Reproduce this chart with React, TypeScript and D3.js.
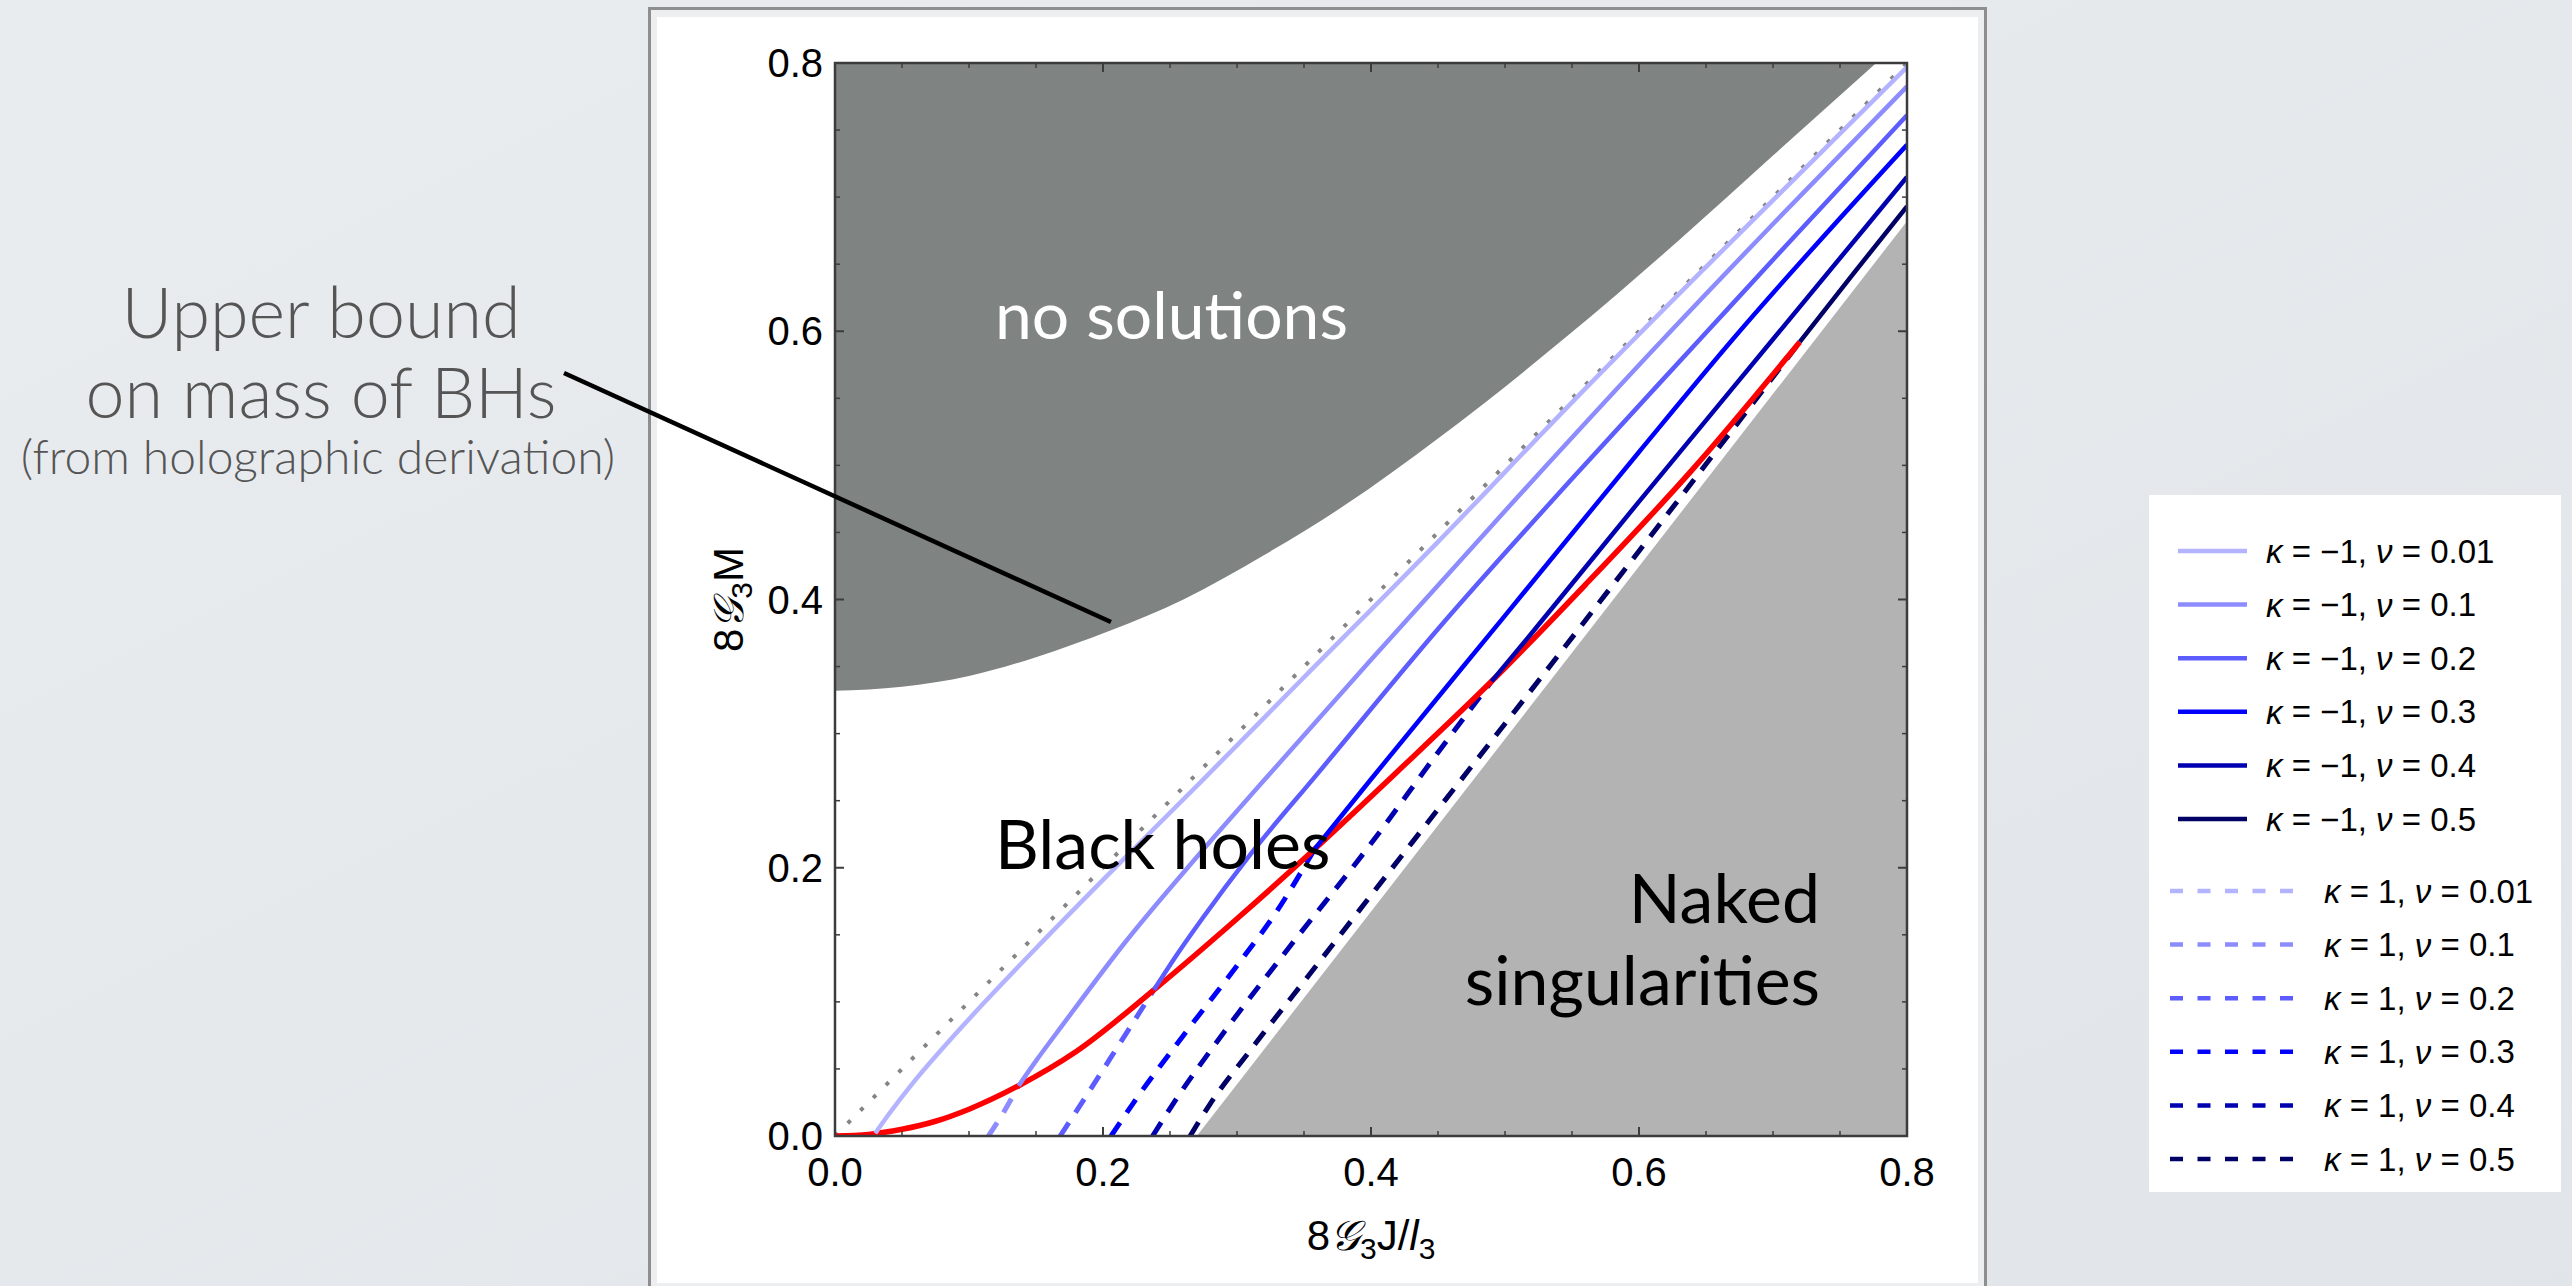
import React from 'react';
import * as d3 from 'd3';

type Pt = [number, number];

const W = 2572;
const H = 1286;

// axis ticks
const majorTicks = [0, 0.2, 0.4, 0.6, 0.8];
const tickLabels = ['0.0', '0.2', '0.4', '0.6', '0.8'];
const minorTicks = [0.05, 0.1, 0.15, 0.25, 0.3, 0.35, 0.45, 0.5, 0.55, 0.65, 0.7, 0.75];

// upper bound on the mass (edge of the "no solutions" region)
const upperBound: Pt[] = [
  [0, 0.332], [0.05, 0.335], [0.1, 0.343], [0.15, 0.357], [0.206, 0.377],
  [0.26, 0.4], [0.32, 0.433], [0.38, 0.47], [0.45, 0.52], [0.546, 0.596],
  [0.63, 0.668], [0.7, 0.731], [0.777, 0.8],
];

// edge of the naked-singularity region
const nakedEdge: Pt[] = [[0.27, 0], [0.8, 0.682]];

// M = J reference line
const diagonal: Pt[] = [[0, 0], [0.8, 0.8]];

// red extremal curve
const extremalCurve: Pt[] = [
  [0, 0], [0.025, 0.0012], [0.05, 0.005], [0.075, 0.011], [0.1, 0.02], [0.137, 0.0375],
  [0.18, 0.063], [0.238, 0.109], [0.3, 0.162], [0.358, 0.214], [0.42, 0.272],
  [0.49, 0.339], [0.56, 0.411], [0.64, 0.497], [0.72, 0.592],
];

const nuLabels = ['0.01', '0.1', '0.2', '0.3', '0.4', '0.5'];
const nuColors = ['#b3b3ff', '#8c8cff', '#5c5cff', '#0000ff', '#0000b0', '#000066'];

// kappa = -1 branches (solid)
const kappaMinus001: Pt[] = [
  [0.03, 0.002], [0.04, 0.016], [0.0585, 0.04], [0.08, 0.065], [0.11, 0.098],
  [0.15, 0.14], [0.2, 0.191], [0.274, 0.265], [0.35, 0.342], [0.45, 0.443],
  [0.55, 0.547], [0.65, 0.648], [0.8, 0.797],
];
const kappaMinus01: Pt[] = [
  [0.137, 0.0375], [0.15, 0.056], [0.17, 0.083], [0.217, 0.145], [0.27, 0.208],
  [0.32, 0.265], [0.4, 0.355], [0.5, 0.466], [0.618, 0.594], [0.7, 0.68], [0.8, 0.7825],
];
const kappaMinus02: Pt[] = [
  [0.238, 0.109], [0.255, 0.135], [0.274, 0.162], [0.31, 0.21], [0.36, 0.27],
  [0.45, 0.378], [0.55, 0.49], [0.6455, 0.594], [0.72, 0.675], [0.8, 0.761],
];
const kappaMinus03: Pt[] = [
  [0.358, 0.214], [0.4, 0.266], [0.5, 0.388], [0.6, 0.51], [0.67, 0.594], [0.8, 0.739],
];
const kappaMinus04: Pt[] = [
  [0.49, 0.339], [0.52, 0.375], [0.6, 0.473], [0.7, 0.594], [0.8, 0.715],
];
const kappaMinus05: Pt[] = [[0.72, 0.592], [0.76, 0.643], [0.8, 0.693]];

// kappa = +1 branches (dashed)
const kappaPlus001: Pt[] = [[0.028, 0], [0.03, 0.002]];
const kappaPlus01: Pt[] = [[0.1145, 0], [0.126, 0.018], [0.137, 0.0375]];
const kappaPlus02: Pt[] = [[0.168, 0], [0.185, 0.026], [0.21, 0.065], [0.238, 0.109]];
const kappaPlus03: Pt[] = [
  [0.206, 0], [0.225, 0.028], [0.26, 0.075], [0.3, 0.127], [0.33, 0.168], [0.358, 0.214],
];
const kappaPlus04: Pt[] = [
  [0.237, 0], [0.255, 0.028], [0.29, 0.077], [0.34, 0.142], [0.4, 0.218], [0.45, 0.286], [0.49, 0.339],
];
const kappaPlus05: Pt[] = [
  [0.265, 0], [0.28, 0.024], [0.31, 0.064], [0.36, 0.128], [0.43, 0.218], [0.52, 0.333],
  [0.62, 0.462], [0.72, 0.592],
];

const kappaMinusCurves = [kappaMinus001, kappaMinus01, kappaMinus02, kappaMinus03, kappaMinus04, kappaMinus05];
const kappaPlusCurves = [kappaPlus001, kappaPlus01, kappaPlus02, kappaPlus03, kappaPlus04, kappaPlus05];

const annotationLines = ['Upper bound', 'on mass of BHs', '(from holographic derivation)'];

const axisFont = "'Liberation Sans', Arial, Helvetica, sans-serif";
const slideFont = "Lato, 'Open Sans', 'Noto Sans', sans-serif";
const scriptFont = "'DejaVu Serif', 'DejaVu Sans', 'Noto Sans', serif";

export default function App() {
  const plot = { left: 835, right: 1907, top: 63, bottom: 1136 };
  const x = d3.scaleLinear().domain([0, 0.8]).range([plot.left, plot.right]);
  const y = d3.scaleLinear().domain([0, 0.8]).range([plot.bottom, plot.top]);

  const smooth = d3.line<Pt>().x(d => x(d[0])).y(d => y(d[1])).curve(d3.curveMonotoneX);
  const straight = d3.line<Pt>().x(d => x(d[0])).y(d => y(d[1]));

  const darkPath = `${smooth(upperBound)}L${x(0)},${y(0.8)}Z`;
  const nakedPath = `${straight(nakedEdge)}L${x(0.8)},${y(0)}Z`;

  const frameColor = '#3c3c3c';
  const legendX = 2149;
  const legendY = 495;
  const rowStep = 53.6;
  const solidRow0 = 551;
  const dashedRow0 = 891;

  return (
    <div style={{ position: 'fixed', left: 0, top: 0, width: W, height: H, overflow: 'hidden' }}>
      <svg width={W} height={H} viewBox={`0 0 ${W} ${H}`} style={{ display: 'block' }}>
        <defs>
          <linearGradient id="slideBg" x1="0" y1="0" x2="1" y2="1">
            <stop offset="0" stopColor="#e9ecef" />
            <stop offset="1" stopColor="#e1e5e9" />
          </linearGradient>
          <clipPath id="plotClip">
            <rect x={plot.left} y={plot.top} width={plot.right - plot.left} height={plot.bottom - plot.top} />
          </clipPath>
        </defs>

        <rect x={0} y={0} width={W} height={H} fill="url(#slideBg)" />

        {/* framed figure panel */}
        <rect x={649.5} y={8.5} width={1336} height={1300} fill="#eceef0" stroke="#8e8e8e" strokeWidth={3} />
        <rect x={657} y={17} width={1321} height={1266} fill="#ffffff" />

        {/* plot area */}
        <g clipPath="url(#plotClip)">
          <rect x={plot.left} y={plot.top} width={plot.right - plot.left} height={plot.bottom - plot.top} fill="#ffffff" />
          <path d={darkPath} fill="#7f8381" />
          <path d={nakedPath} fill="#b3b3b3" />
          <path d={straight(diagonal) || ''} fill="none" stroke="#858585" strokeWidth={4} strokeDasharray="4 14" />
          {kappaPlusCurves.map((c, i) => (
            <path key={`p${i}`} d={smooth(c) || ''} fill="none" stroke={nuColors[i]} strokeWidth={5} strokeDasharray="16 12" />
          ))}
          <path d={smooth(extremalCurve) || ''} fill="none" stroke="#ff0000" strokeWidth={5.5} />
          {kappaMinusCurves.map((c, i) => (
            <path key={`m${i}`} d={smooth(c) || ''} fill="none" stroke={nuColors[i]} strokeWidth={4.5} />
          ))}
        </g>

        {/* region labels */}
        <text x={995} y={339} fill="#ffffff" fontFamily={slideFont} fontSize={66}>no solutions</text>
        <text x={995} y={869} fill="#000000" fontFamily={slideFont} fontSize={68}>Black holes</text>
        <text x={1820} y={923} fill="#000000" fontFamily={slideFont} fontSize={68} textAnchor="end">Naked</text>
        <text x={1820} y={1005} fill="#000000" fontFamily={slideFont} fontSize={68} textAnchor="end">singularities</text>

        {/* frame */}
        <rect x={plot.left} y={plot.top} width={plot.right - plot.left} height={plot.bottom - plot.top}
          fill="none" stroke={frameColor} strokeWidth={2.5} />
        {majorTicks.map(t => (
          <g key={`M${t}`} stroke={frameColor} strokeWidth={2}>
            <line x1={x(t)} x2={x(t)} y1={plot.bottom} y2={plot.bottom - 9} />
            <line x1={x(t)} x2={x(t)} y1={plot.top} y2={plot.top + 9} />
            <line y1={y(t)} y2={y(t)} x1={plot.left} x2={plot.left + 9} />
            <line y1={y(t)} y2={y(t)} x1={plot.right} x2={plot.right - 9} />
          </g>
        ))}
        {minorTicks.map(t => (
          <g key={`m${t}`} stroke={frameColor} strokeWidth={1.5}>
            <line x1={x(t)} x2={x(t)} y1={plot.bottom} y2={plot.bottom - 5} />
            <line x1={x(t)} x2={x(t)} y1={plot.top} y2={plot.top + 5} />
            <line y1={y(t)} y2={y(t)} x1={plot.left} x2={plot.left + 5} />
            <line y1={y(t)} y2={y(t)} x1={plot.right} x2={plot.right - 5} />
          </g>
        ))}
        {majorTicks.map((t, i) => (
          <text key={`xl${t}`} x={x(t)} y={1186} textAnchor="middle" fontFamily={axisFont} fontSize={40} fill="#000">
            {tickLabels[i]}
          </text>
        ))}
        {majorTicks.map((t, i) => (
          <text key={`yl${t}`} x={823} y={y(t)} textAnchor="end" dominantBaseline="central" fontFamily={axisFont} fontSize={40} fill="#000">
            {tickLabels[i]}
          </text>
        ))}

        {/* axis titles */}
        <text x={(plot.left + plot.right) / 2} y={1250} textAnchor="middle" fontFamily={axisFont} fontSize={42} fill="#000">
          <tspan>8</tspan>
          <tspan fontFamily={scriptFont} fontStyle="italic">𝒢</tspan>
          <tspan fontSize={30} dy={9}>3</tspan>
          <tspan dy={-9}>J/</tspan>
          <tspan fontStyle="italic">l</tspan>
          <tspan fontSize={30} dy={9}>3</tspan>
        </text>
        <text transform={`translate(743,${(plot.top + plot.bottom) / 2}) rotate(-90)`} textAnchor="middle"
          fontFamily={axisFont} fontSize={42} fill="#000">
          <tspan>8</tspan>
          <tspan fontFamily={scriptFont} fontStyle="italic">𝒢</tspan>
          <tspan fontSize={30} dy={9}>3</tspan>
          <tspan dy={-9}>M</tspan>
        </text>

        {/* annotation */}
        <g fontFamily={slideFont} fontWeight={300} fill="#555555" textAnchor="middle">
          <text x={321} y={338} fontSize={70}>{annotationLines[0]}</text>
          <text x={321} y={418} fontSize={70}>{annotationLines[1]}</text>
          <text x={318} y={474} fontSize={48}>{annotationLines[2]}</text>
        </g>
        <line x1={564} y1={373} x2={1111} y2={622} stroke="#000" strokeWidth={4.5} />

        {/* legend */}
        <rect x={legendX} y={legendY} width={412} height={697} fill="#ffffff" />
        {nuLabels.map((nu, i) => (
          <g key={`ls${nu}`}>
            <line x1={2178} x2={2247} y1={solidRow0 + i * rowStep} y2={solidRow0 + i * rowStep}
              stroke={nuColors[i]} strokeWidth={4.5} />
            <text x={2266} y={solidRow0 + i * rowStep} dominantBaseline="central" fontFamily={axisFont} fontSize={33} fill="#000">
              <tspan fontStyle="italic">κ</tspan> = −1, <tspan fontStyle="italic">ν</tspan> = {nu}
            </text>
          </g>
        ))}
        {nuLabels.map((nu, i) => (
          <g key={`ld${nu}`}>
            <line x1={2170} x2={2293} y1={dashedRow0 + i * rowStep} y2={dashedRow0 + i * rowStep}
              stroke={nuColors[i]} strokeWidth={4.5} strokeDasharray="13 14.5" />
            <text x={2324} y={dashedRow0 + i * rowStep} dominantBaseline="central" fontFamily={axisFont} fontSize={33} fill="#000">
              <tspan fontStyle="italic">κ</tspan> = 1, <tspan fontStyle="italic">ν</tspan> = {nu}
            </text>
          </g>
        ))}
      </svg>
    </div>
  );
}
